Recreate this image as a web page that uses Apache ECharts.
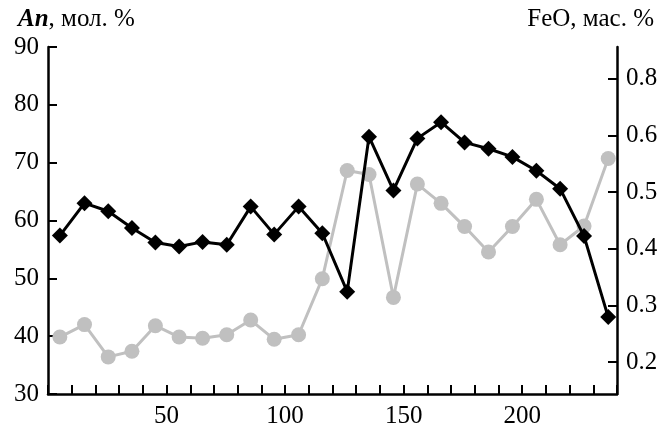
<!DOCTYPE html>
<html>
<head>
<meta charset="utf-8">
<script src="https://cdn.jsdelivr.net/npm/echarts@6/dist/echarts.min.js"></script>
<style>
  html, body { margin: 0; padding: 0; background: #fff; }
  #chart { width: 666px; height: 434px; }
</style>
</head>
<body>
<div id="chart"></div>
<script>
// ---- data ----
const xValues = [5, 15.4, 25.4, 35.4, 45.3, 55.3, 65.2, 75.4, 85.5, 95.4, 105.7, 115.7, 126.2, 135.4, 145.7, 155.8, 165.8, 175.7, 185.8, 195.9, 206, 216, 226.1, 236.3];
const anValues = [57.4, 63.0, 61.6, 58.7, 56.2, 55.5, 56.3, 55.8, 62.4, 57.6, 62.4, 57.8, 47.7, 74.5, 65.2, 74.2, 77.0, 73.5, 72.4, 71.0, 68.6, 65.5, 57.3, 43.3];
const feoValues = [0.244, 0.266, 0.209, 0.219, 0.264, 0.244, 0.242, 0.248, 0.274, 0.240, 0.248, 0.347, 0.538, 0.531, 0.314, 0.514, 0.480, 0.439, 0.394, 0.439, 0.487, 0.407, 0.440, 0.559];
const xLabelValues = [50, 100, 150, 200];
const rightTickValues = [0.2, 0.3, 0.4, 0.5, 0.6, 0.7];
const rightTickLabels = ['0.2', '0.3', '0.4', '0.5', '0.6', '0.8'];
const leftTitle = ['An', ', мол. %'];
const rightTitle = 'FeO, мас. %';

const FONT = "'Liberation Serif', 'Times New Roman', serif";
const anData = xValues.map((x, i) => [x, anValues[i]]);
const feoData = xValues.map((x, i) => [x, feoValues[i]]);

const chart = echarts.init(document.getElementById('chart'), null, { renderer: 'canvas' });
chart.setOption({
  animation: false,
  backgroundColor: '#ffffff',
  title: [
    {
      text: '{a|' + leftTitle[0] + '}{b|' + leftTitle[1] + '}',
      left: 13, top: 2,
      textStyle: {
        rich: {
          a: { fontFamily: FONT, fontSize: 25, fontStyle: 'italic', fontWeight: 'bold', color: '#000' },
          b: { fontFamily: FONT, fontSize: 25, fontWeight: 'normal', color: '#000' }
        }
      }
    },
    {
      text: rightTitle,
      right: 7, top: 2,
      textStyle: { fontFamily: FONT, fontSize: 25, fontWeight: 'normal', color: '#000' }
    }
  ],
  grid: { left: 48, right: 49, top: 47, bottom: 40, containLabel: false },
  xAxis: {
    type: 'value', min: 0, max: 240, interval: 10,
    axisLine: { show: true, onZero: false, lineStyle: { color: '#000', width: 2.5 } },
    axisTick: { show: true, inside: true, length: 9, lineStyle: { color: '#000', width: 2 } },
    axisLabel: {
      customValues: xLabelValues,
      fontFamily: FONT, fontSize: 25, color: '#000', margin: 10
    },
    splitLine: { show: false }
  },
  yAxis: [
    {
      type: 'value', min: 30, max: 90, interval: 10, position: 'left',
      axisLine: { show: true, onZero: false, lineStyle: { color: '#000', width: 2.5 } },
      axisTick: { show: true, inside: true, length: 9, lineStyle: { color: '#000', width: 2 } },
      axisLabel: { fontFamily: FONT, fontSize: 25, color: '#000', margin: 9 },
      splitLine: { show: false }
    },
    {
      type: 'value', min: 0.1435, max: 0.7559, position: 'right',
      axisLine: { show: true, onZero: false, lineStyle: { color: '#000', width: 2.5 } },
      axisTick: { show: true, inside: true, length: 9, customValues: rightTickValues, lineStyle: { color: '#000', width: 2 } },
      axisLabel: {
        customValues: rightTickValues,
        fontFamily: FONT, fontSize: 25, color: '#000', margin: 9,
        formatter: function (v) {
          let best = 0;
          for (let i = 1; i < rightTickValues.length; i++) {
            if (Math.abs(rightTickValues[i] - v) < Math.abs(rightTickValues[best] - v)) best = i;
          }
          return rightTickLabels[best];
        }
      },
      splitLine: { show: false }
    }
  ],
  series: [
    {
      name: 'FeO', type: 'line', yAxisIndex: 1, data: feoData,
      symbol: 'circle', symbolSize: 15,
      lineStyle: { color: '#c0c0c0', width: 3 },
      itemStyle: { color: '#c0c0c0' },
      z: 2
    },
    {
      name: 'An', type: 'line', yAxisIndex: 0, data: anData,
      symbol: 'diamond', symbolSize: 16,
      lineStyle: { color: '#000', width: 3 },
      itemStyle: { color: '#000' },
      z: 3
    }
  ]
});
</script>
</body>
</html>
